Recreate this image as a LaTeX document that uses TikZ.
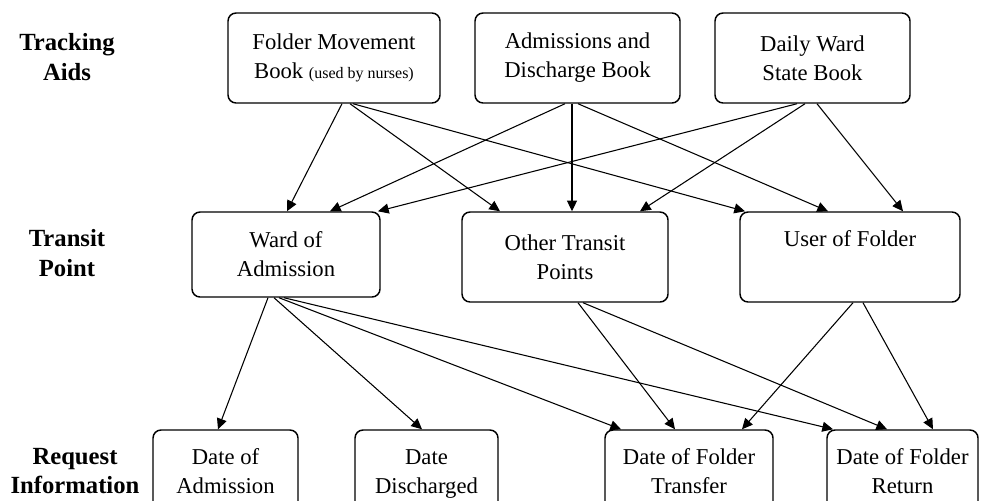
\documentclass[tikz,border=0pt]{standalone}
\usepackage{fontspec}
\setmainfont{Liberation Serif}
\usetikzlibrary{arrows.meta}
\begin{document}
\begin{tikzpicture}[x=0.75pt,y=-0.75pt,
  box/.style={draw, line width=1.1pt, rounded corners=6pt, inner sep=0pt, align=center,
    font=\fontsize{17}{21.75}\selectfont},
  lab/.style={align=center, font=\bfseries\fontsize{18.5}{22}\selectfont},
  arr/.style={line width=0.8pt, -{Triangle[length=8pt,width=7.5pt]}}]
\useasboundingbox (0,0) rectangle (985,500);
\clip (0,0) rectangle (985,500);
\fill[white] (0,0) rectangle (985,500);

% labels
\node[lab] (l1) at (67,57) {Tracking\\Aids};
\node[lab] (l2) at (67,253) {Transit\\Point};
\node[lab] (l3) at (75,471) {Request\\Information};

% top row
\node[box, minimum width=159pt, minimum height=67.5pt] (fmb) at (334,58)
  {Folder Movement\\Book {\fontsize{12}{14}\selectfont(used by nurses)}};
\node[box, minimum width=153.75pt, minimum height=67.5pt] (adb) at (577.5,58)
  {Admissions and\\Discharge Book};
\node[box, minimum width=146.25pt, minimum height=67.5pt] (dwsb) at (812.5,58)
  {Daily Ward\\State Book};

% middle row
\node[box, minimum width=141pt, minimum height=63.75pt] (ward) at (286,254.5)
  {Ward of\\Admission};
\node[box, minimum width=154.5pt, minimum height=67.5pt] (other) at (565,257)
  {Other Transit\\Points};
\node[box, minimum width=165pt, minimum height=67.5pt] (user) at (850,257)
  {User of Folder\\\strut};

% bottom row (cut by the lower edge)
\node[box, minimum width=108.75pt, minimum height=90pt] (doa) at (225.5,490)
  {Date of\\Admission\\\strut};
\node[box, minimum width=107.25pt, minimum height=90pt] (dd) at (426.5,490)
  {Date\\Discharged\\\strut};
\node[box, minimum width=126pt, minimum height=90pt] (dft) at (689,490)
  {Date of Folder\\Transfer\\\strut};
\node[box, minimum width=113.25pt, minimum height=90pt] (dfr) at (902.5,490)
  {Date of Folder\\Return\\\strut};

% connectors: tracking aids -> transit points
\draw[arr] (fmb.south -| 342,0) -- (ward.north -| 287,0);
\draw[arr] (fmb.south -| 350,0) -- (other.north -| 500,0);
\draw[arr] (fmb.south -| 353,0) -- (user.north -| 745,0);
\draw[arr] (adb.south -| 565,0) -- (ward.north -| 330,0);
\draw[arr] (adb.south -| 572,0) -- (other.north -| 572,0);
\draw[arr] (adb.south -| 578,0) -- (user.north -| 828,0);
\draw[arr] (dwsb.south -| 797,0) -- (ward.north -| 378,0);
\draw[arr] (dwsb.south -| 805,0) -- (other.north -| 640,0);
\draw[arr] (dwsb.south -| 817,0) -- (user.north -| 903,0);

% transit points -> request information
\draw[arr] (ward.south -| 268,0) -- (doa.north -| 218,0);
\draw[arr] (ward.south -| 274,0) -- (dd.north -| 422,0);
\draw[arr] (ward.south -| 279,0) -- (dft.north -| 621,0);
\draw[arr] (ward.south -| 284,0) -- (dfr.north -| 833,0);
\draw[arr] (other.south -| 578,0) -- (dft.north -| 675,0);
\draw[arr] (other.south -| 583,0) -- (dfr.north -| 887,0);
\draw[arr] (user.south -| 853,0) -- (dft.north -| 742,0);
\draw[arr] (user.south -| 863,0) -- (dfr.north -| 933,0);
\end{tikzpicture}
\end{document}
